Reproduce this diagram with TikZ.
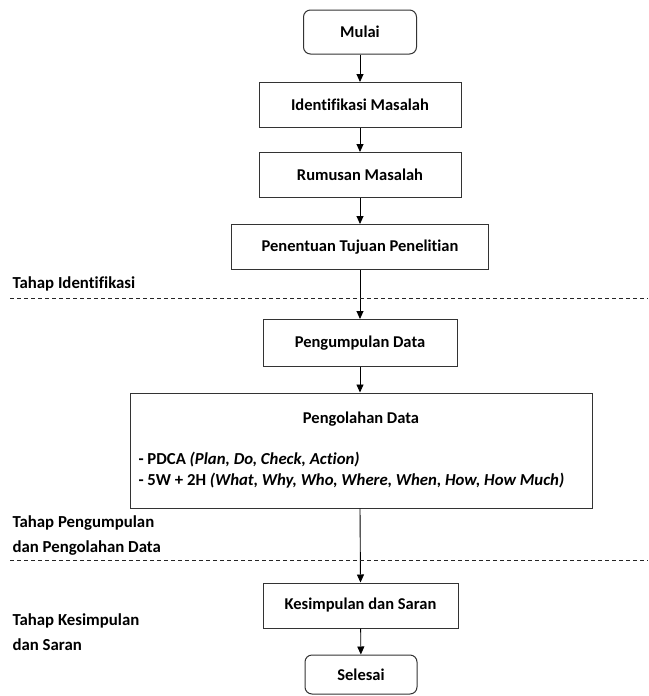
\documentclass[tikz,border=0pt]{standalone}
\usepackage{fontspec}
\setmainfont[Ligatures={NoCommon}]{Carlito}
\usetikzlibrary{arrows.meta}
\begin{document}
\begin{tikzpicture}[x=1pt,y=-1pt,
  txt/.style={font=\fontsize{16.5}{19}\selectfont\bfseries},
  procbox/.style={txt,draw=black!80,line width=1pt,rectangle,inner sep=0pt},
  termbox/.style={txt,draw=black!80,line width=1pt,rectangle,rounded corners=7pt,inner sep=0pt},
  flow/.style={-{Triangle[length=8pt,width=7pt]},line width=0.9pt},
  stageline/.style={line width=0.8pt,dash pattern=on 4pt off 3pt,draw=black!85},
  stagelabel/.style={anchor=west,align=left,font=\fontsize{16.8}{25}\selectfont\bfseries}]
\useasboundingbox (0,0) rectangle (648,696);

% main process chain
\node[termbox,minimum width=113pt,minimum height=44pt] (start) at (360,32) {Mulai};
\node[procbox,minimum width=202pt,minimum height=45pt] (ident) at (360,105) {Identifikasi Masalah};
\node[procbox,minimum width=202pt,minimum height=45pt] (rumus) at (360,175) {Rumusan Masalah};
\node[procbox,minimum width=257pt,minimum height=45pt] (tujuan) at (360,247) {Penentuan Tujuan Penelitian};
\node[procbox,minimum width=194pt,minimum height=47pt] (kumpul) at (360,343) {Pengumpulan Data};
\node[procbox,minimum width=462pt,minimum height=115pt] (olah) at (361,450.5) {};
\node[txt] (olahtitle) at (361,419) {Pengolahan Data};
\node[anchor=west,align=left,font=\fontsize{16.75}{21}\selectfont\bfseries] (olahlist) at (135,470.5)
  {- PDCA \textit{(Plan, Do, Check, Action)}\\
   - 5W + 2H \textit{(What, Why, Who, Where, When, How, How Much)}};
\node[procbox,minimum width=195pt,minimum height=45pt] (simpul) at (360.5,605.5) {Kesimpulan dan Saran};
\node[termbox,minimum width=112pt,minimum height=39pt] (selesai) at (361,674.5) {Selesai};

% connectors
\draw[flow] (start) -- (ident);
\draw[flow] (ident) -- (rumus);
\draw[flow] (rumus) -- (tujuan);
\draw[flow] (tujuan) -- (kumpul);
\draw[flow] (kumpul.south) -- (kumpul.south |- olah.north);
\draw[flow] (kumpul.south |- olah.south) -- (simpul.north);
\draw[flow] (simpul) -- (selesai);

% stage separators
\coordinate (sepA) at (10,298);
\coordinate (sepAend) at (648,298);
\coordinate (sepB) at (10,560);
\coordinate (sepBend) at (648,560);
\draw[stageline] (sepA) -- (sepAend);
\draw[stageline] (sepB) -- (sepBend);

% stage labels
\node[stagelabel] (stage1) at (9,284) {Tahap Identifikasi};
\node[stagelabel] (stage2) at (9,536) {Tahap Pengumpulan\\dan Pengolahan Data};
\node[stagelabel] (stage3) at (9,632) {Tahap Kesimpulan\\dan Saran};
\end{tikzpicture}
\end{document}
